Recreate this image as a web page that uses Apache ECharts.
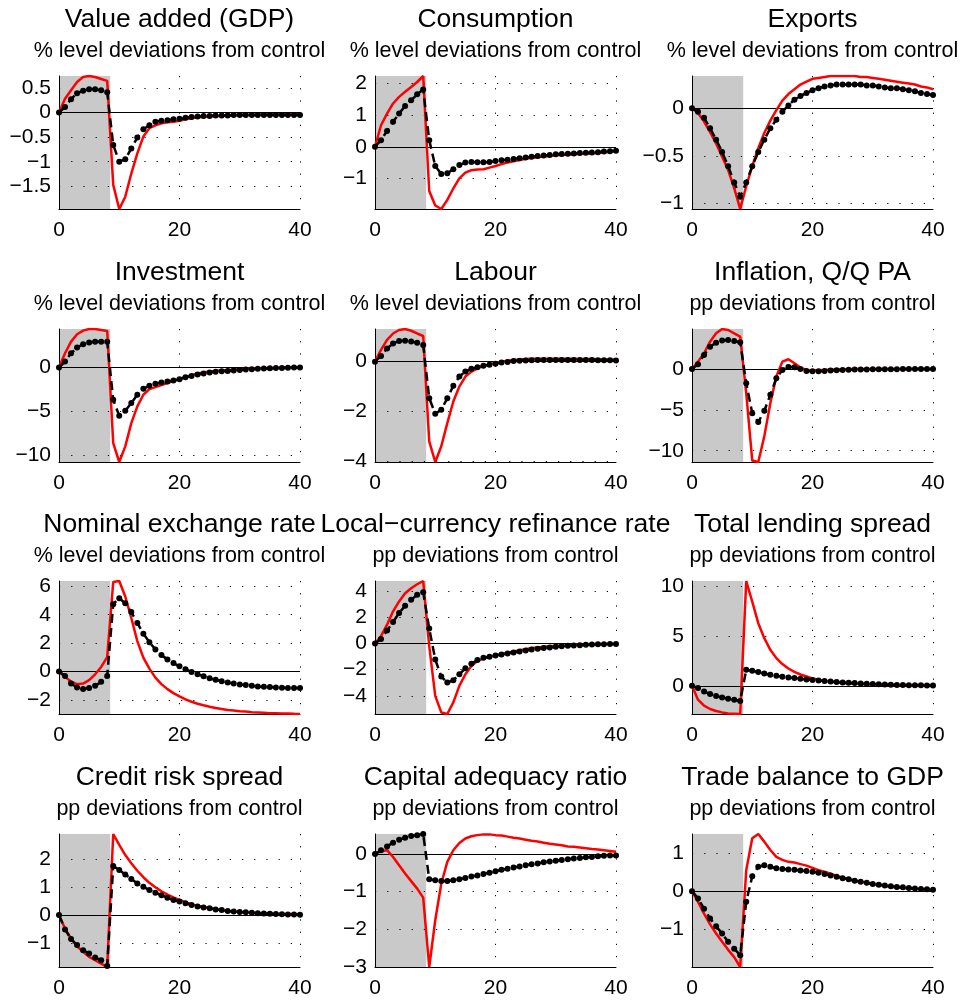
<!DOCTYPE html>
<html>
<head>
<meta charset="utf-8">
<script src="https://cdn.jsdelivr.net/npm/echarts@6/dist/echarts.min.js"></script>
<style>
  html, body { margin: 0; padding: 0; background: #fff; }
  #chart { width: 962px; height: 1001px; }
</style>
</head>
<body>
<div id="chart"></div>
<script>
// Quarters after the shock
const quarters = Array.from({ length: 41 }, (_, i) => i);

const panelTitles = [
  'Value added (GDP)', 'Consumption', 'Exports',
  'Investment', 'Labour', 'Inflation, Q/Q PA',
  'Nominal exchange rate', 'Local\u2212currency refinance rate', 'Total lending spread',
  'Credit risk spread', 'Capital adequacy ratio', 'Trade balance to GDP'
];
const panelUnits = [
  '% level deviations from control', '% level deviations from control', '% level deviations from control',
  '% level deviations from control', '% level deviations from control', 'pp deviations from control',
  '% level deviations from control', 'pp deviations from control', 'pp deviations from control',
  'pp deviations from control', 'pp deviations from control', 'pp deviations from control'
];
// Spacing of the labelled y ticks in each panel
const yTickSteps = [0.5, 1, 0.5, 5, 2, 5, 2, 2, 5, 1, 1, 1];
const xTickStep = 20;
// End of the shaded period (quarters)
const shadeEnd = 8.5;

// Red solid line / black dotted line, quarters 0..40
const gdpRed = [0, 0.28, 0.45, 0.62, 0.72, 0.74, 0.72, 0.68, 0.64, -1.47, -1.96, -1.71, -1.24, -0.83, -0.49, -0.32, -0.26, -0.22, -0.2, -0.19, -0.17, -0.14, -0.12, -0.1, -0.09, -0.08, -0.07, -0.07, -0.06, -0.06, -0.05, -0.05, -0.05, -0.05, -0.04, -0.04, -0.04, -0.04, -0.04, -0.04, -0.04];
const gdpBlack = [0, 0.11, 0.27, 0.39, 0.44, 0.47, 0.47, 0.45, 0.41, -0.66, -1.0, -0.95, -0.73, -0.51, -0.34, -0.26, -0.19, -0.17, -0.16, -0.14, -0.13, -0.11, -0.09, -0.08, -0.07, -0.07, -0.06, -0.06, -0.06, -0.05, -0.05, -0.05, -0.05, -0.05, -0.05, -0.05, -0.05, -0.05, -0.05, -0.05, -0.05];

const consRed = [0, 0.68, 1.05, 1.37, 1.58, 1.74, 1.89, 2.05, 2.24, -1.4, -1.86, -1.97, -1.68, -1.32, -1.0, -0.82, -0.74, -0.72, -0.71, -0.66, -0.61, -0.55, -0.5, -0.46, -0.42, -0.38, -0.35, -0.33, -0.31, -0.29, -0.27, -0.26, -0.25, -0.24, -0.23, -0.22, -0.21, -0.2, -0.18, -0.16, -0.14];
const consBlack = [0, 0.21, 0.5, 0.79, 1.05, 1.29, 1.47, 1.66, 1.81, 0.21, -0.61, -0.86, -0.84, -0.71, -0.58, -0.5, -0.48, -0.49, -0.49, -0.48, -0.45, -0.43, -0.41, -0.39, -0.36, -0.34, -0.32, -0.29, -0.28, -0.26, -0.24, -0.23, -0.22, -0.21, -0.2, -0.19, -0.18, -0.17, -0.15, -0.14, -0.13];

const expRed = [0, -0.05, -0.14, -0.25, -0.37, -0.51, -0.65, -0.84, -1.06, -0.82, -0.61, -0.42, -0.26, -0.13, -0.02, 0.08, 0.15, 0.2, 0.25, 0.28, 0.31, 0.32, 0.33, 0.34, 0.34, 0.34, 0.34, 0.34, 0.33, 0.33, 0.32, 0.31, 0.3, 0.29, 0.28, 0.27, 0.26, 0.25, 0.23, 0.22, 0.2];
const expBlack = [0, -0.035, -0.1, -0.21, -0.33, -0.46, -0.61, -0.78, -0.93, -0.78, -0.61, -0.46, -0.33, -0.21, -0.12, -0.035, 0.03, 0.09, 0.13, 0.16, 0.19, 0.21, 0.23, 0.24, 0.25, 0.25, 0.25, 0.25, 0.25, 0.24, 0.24, 0.23, 0.22, 0.21, 0.21, 0.2, 0.19, 0.18, 0.16, 0.15, 0.14];

const invRed = [0, 1.63, 2.95, 3.79, 4.2, 4.39, 4.39, 4.28, 4.17, -8.6, -10.76, -8.98, -6.33, -4.43, -3.1, -2.46, -2.23, -2.0, -1.78, -1.55, -1.29, -1.06, -0.87, -0.68, -0.57, -0.45, -0.38, -0.3, -0.27, -0.23, -0.19, -0.15, -0.11, -0.09, -0.08, -0.06, -0.04, -0.03, 0, 0, 0];
const invBlack = [0, 0.68, 1.63, 2.27, 2.65, 2.84, 2.95, 2.95, 2.95, -3.67, -5.49, -4.92, -4.05, -3.1, -2.42, -2.08, -1.86, -1.7, -1.59, -1.48, -1.33, -1.1, -0.95, -0.8, -0.68, -0.57, -0.49, -0.42, -0.38, -0.34, -0.27, -0.23, -0.19, -0.15, -0.11, -0.08, -0.06, -0.04, -0.02, 0, 0];

const labRed = [0, 0.47, 0.87, 1.13, 1.27, 1.31, 1.24, 1.13, 1.03, -3.2, -4.03, -3.4, -2.47, -1.6, -1.0, -0.6, -0.4, -0.27, -0.17, -0.11, -0.04, 0, 0.04, 0.07, 0.09, 0.11, 0.12, 0.12, 0.12, 0.12, 0.12, 0.12, 0.12, 0.12, 0.11, 0.11, 0.11, 0.1, 0.09, 0.09, 0.08];
const labBlack = [0, 0.23, 0.53, 0.73, 0.83, 0.84, 0.81, 0.76, 0.67, -1.47, -2.09, -1.93, -1.47, -0.97, -0.6, -0.4, -0.29, -0.23, -0.17, -0.13, -0.09, -0.04, -0.01, 0.03, 0.04, 0.05, 0.06, 0.07, 0.07, 0.07, 0.07, 0.07, 0.07, 0.07, 0.07, 0.07, 0.07, 0.06, 0.06, 0.06, 0.05];

const inflRed = [0, 0.89, 1.91, 3.33, 4.35, 4.88, 4.76, 4.35, 3.94, -2.97, -11.2, -11.38, -8.25, -4.19, -0.93, 0.89, 1.18, 0.69, 0.16, -0.12, -0.16, -0.16, -0.12, -0.08, -0.06, -0.04, -0.03, -0.02, -0.02, -0.01, -0.01, 0, 0, 0, 0, 0, 0, 0, 0, 0, 0];
const inflBlack = [0, 0.57, 1.71, 2.72, 3.21, 3.46, 3.54, 3.41, 3.25, -1.75, -5.41, -6.5, -5.12, -3.17, -1.14, -0.12, 0.24, 0.2, 0, -0.24, -0.28, -0.28, -0.24, -0.2, -0.16, -0.12, -0.1, -0.08, -0.07, -0.06, -0.05, -0.04, -0.04, -0.03, -0.03, -0.02, -0.02, -0.02, -0.01, -0.01, -0.01];

const fxRed = [0, -0.37, -0.7, -0.88, -0.84, -0.6, -0.19, 0.33, 1.02, 6.3, 6.37, 5.28, 3.77, 2.14, 0.98, 0.21, -0.42, -0.88, -1.23, -1.51, -1.74, -1.95, -2.12, -2.26, -2.37, -2.47, -2.56, -2.63, -2.7, -2.74, -2.79, -2.81, -2.86, -2.88, -2.9, -2.93, -2.93, -2.95, -2.95, -2.97, -2.98];
const fxBlack = [0, -0.3, -0.84, -1.12, -1.23, -1.16, -1.0, -0.72, -0.3, 4.74, 5.16, 4.81, 4.19, 3.42, 2.67, 2.07, 1.56, 1.16, 0.86, 0.6, 0.37, 0.16, -0.02, -0.19, -0.33, -0.47, -0.58, -0.67, -0.77, -0.84, -0.91, -0.95, -1.0, -1.05, -1.07, -1.09, -1.12, -1.14, -1.16, -1.16, -1.16];

const rateRed = [0, 0.56, 1.44, 2.46, 3.22, 3.85, 4.23, 4.53, 4.78, -0.2, -4.0, -5.27, -5.39, -4.5, -3.24, -2.35, -1.72, -1.34, -1.14, -1.01, -0.91, -0.81, -0.71, -0.61, -0.51, -0.43, -0.35, -0.3, -0.25, -0.2, -0.18, -0.15, -0.13, -0.1, -0.08, -0.06, -0.05, -0.04, -0.03, -0.03, -0.03];
const rateBlack = [0, 0.35, 0.99, 1.65, 2.33, 2.89, 3.34, 3.72, 3.92, 1.14, -1.22, -2.53, -2.99, -2.81, -2.35, -1.9, -1.54, -1.27, -1.09, -1.01, -0.91, -0.84, -0.76, -0.68, -0.61, -0.53, -0.46, -0.41, -0.35, -0.3, -0.25, -0.2, -0.18, -0.15, -0.13, -0.1, -0.08, -0.06, -0.05, -0.04, -0.03];

const lendRed = [0, -1.4, -2.0, -2.33, -2.53, -2.67, -2.77, -2.8, -2.83, 10.5, 8.43, 6.27, 4.77, 3.6, 2.77, 2.17, 1.73, 1.4, 1.13, 0.93, 0.73, 0.6, 0.5, 0.4, 0.33, 0.27, 0.23, 0.2, 0.17, 0.13, 0.12, 0.1, 0.08, 0.08, 0.07, 0.05, 0.03, 0.03, 0.03, 0.02, 0.02];
const lendBlack = [0, -0.23, -0.57, -0.83, -1.03, -1.17, -1.3, -1.4, -1.53, 1.6, 1.5, 1.37, 1.23, 1.1, 1.0, 0.9, 0.83, 0.77, 0.7, 0.63, 0.57, 0.53, 0.47, 0.43, 0.37, 0.33, 0.3, 0.27, 0.23, 0.2, 0.17, 0.15, 0.13, 0.1, 0.08, 0.07, 0.05, 0.05, 0.04, 0.03, 0.03];

const creditRed = [0, -0.48, -0.83, -1.11, -1.31, -1.49, -1.61, -1.73, -1.85, 2.89, 2.5, 2.14, 1.85, 1.58, 1.35, 1.15, 0.99, 0.85, 0.73, 0.63, 0.54, 0.46, 0.39, 0.33, 0.29, 0.25, 0.21, 0.18, 0.15, 0.13, 0.11, 0.1, 0.08, 0.07, 0.06, 0.05, 0.05, 0.04, 0.04, 0.03, 0.02];
const creditBlack = [0, -0.51, -0.85, -1.07, -1.25, -1.37, -1.51, -1.61, -1.81, 1.75, 1.61, 1.45, 1.29, 1.13, 1.01, 0.89, 0.8, 0.71, 0.62, 0.54, 0.48, 0.42, 0.36, 0.31, 0.27, 0.24, 0.2, 0.18, 0.15, 0.13, 0.11, 0.1, 0.08, 0.07, 0.06, 0.05, 0.04, 0.03, 0.02, 0.02, 0.01];

const carRed = [0, 0.07, 0.1, -0.08, -0.3, -0.52, -0.72, -0.92, -1.16, -3.0, -1.76, -0.79, -0.21, 0.1, 0.29, 0.41, 0.47, 0.5, 0.52, 0.52, 0.5, 0.49, 0.46, 0.43, 0.41, 0.38, 0.35, 0.33, 0.3, 0.27, 0.25, 0.23, 0.2, 0.19, 0.17, 0.15, 0.13, 0.12, 0.1, 0.08, 0.06];
const carBlack = [0, 0.1, 0.2, 0.3, 0.38, 0.43, 0.48, 0.5, 0.53, -0.67, -0.7, -0.72, -0.72, -0.7, -0.67, -0.64, -0.6, -0.57, -0.53, -0.5, -0.46, -0.42, -0.39, -0.36, -0.33, -0.3, -0.27, -0.25, -0.22, -0.2, -0.18, -0.16, -0.14, -0.12, -0.11, -0.09, -0.08, -0.06, -0.05, -0.04, -0.04];

const tradeRed = [0, -0.28, -0.59, -0.87, -1.11, -1.33, -1.54, -1.73, -1.99, 0.55, 1.39, 1.5, 1.3, 1.08, 0.9, 0.82, 0.77, 0.75, 0.71, 0.67, 0.61, 0.55, 0.51, 0.46, 0.4, 0.36, 0.32, 0.28, 0.25, 0.21, 0.18, 0.16, 0.14, 0.11, 0.1, 0.08, 0.07, 0.06, 0.05, 0.04, 0.04];
const tradeBlack = [0, -0.19, -0.46, -0.72, -0.92, -1.11, -1.33, -1.51, -1.68, -0.28, 0.39, 0.64, 0.68, 0.64, 0.6, 0.58, 0.57, 0.56, 0.54, 0.53, 0.51, 0.48, 0.45, 0.41, 0.38, 0.34, 0.31, 0.27, 0.25, 0.22, 0.19, 0.17, 0.15, 0.13, 0.11, 0.1, 0.08, 0.07, 0.06, 0.05, 0.04];

const redSeries = [gdpRed, consRed, expRed, invRed, labRed, inflRed, fxRed, rateRed, lendRed, creditRed, carRed, tradeRed];
const blackSeries = [gdpBlack, consBlack, expBlack, invBlack, labBlack, inflBlack, fxBlack, rateBlack, lendBlack, creditBlack, carBlack, tradeBlack];

// ---- layout ----
const colLeft = [59, 375, 692];
const rowTop = [76, 329, 581, 834];
const plotW = 241;
const plotH = 133;
const FONT = '"Liberation Sans", Arial, Helvetica, sans-serif';

function tickFormatter(step) {
  return function (v) {
    const k = v / step;
    if (Math.abs(k - Math.round(k)) > 1e-6) return '';
    let s = String(parseFloat((Math.round(k) * step).toFixed(3)));
    if (s === '-0') s = '0';
    return s.replace('-', '\u2212');
  };
}

const dotted = { color: '#000', width: 1, type: [1.2, 11] };

const grids = [], xAxes = [], yAxes = [], series = [], graphics = [];

panelTitles.forEach((title, i) => {
  const col = i % 3, row = Math.floor(i / 3);
  const left = colLeft[col], top = rowTop[row];
  const cx = left + plotW / 2;

  graphics.push({
    type: 'text', x: cx, y: top - 56, silent: true,
    style: { text: title, fontSize: 26.5, fontFamily: FONT, fill: '#000', textAlign: 'center', textVerticalAlign: 'middle' }
  });
  graphics.push({
    type: 'text', x: cx, y: top - 25, silent: true,
    style: { text: panelUnits[i], fontSize: 21.5, fontFamily: FONT, fill: '#000', textAlign: 'center', textVerticalAlign: 'middle' }
  });

  grids.push({ left: left, top: top, width: plotW, height: plotH, containLabel: false, outerBoundsMode: 'none' });

  xAxes.push({
    type: 'value', gridIndex: i, min: 0, max: 40, interval: xTickStep, z: 1.5,
    axisLine: { show: true, onZero: false, lineStyle: { color: '#000', width: 1 } },
    axisTick: { show: false },
    axisLabel: { color: '#000', fontSize: 21, fontFamily: FONT, margin: 11, formatter: tickFormatter(xTickStep) },
    splitLine: { show: true, showMinLine: false, showMaxLine: true, lineStyle: dotted }
  });

  yAxes.push({
    type: 'value', gridIndex: i, min: 'dataMin', max: 'dataMax', scale: true, z: 1.5,
    minInterval: yTickSteps[i], maxInterval: yTickSteps[i],
    axisLine: { show: true, onZero: false, lineStyle: { color: '#000', width: 1 } },
    axisTick: { show: false },
    axisLabel: { color: '#000', fontSize: 21, fontFamily: FONT, margin: 8, formatter: tickFormatter(yTickSteps[i]) },
    splitLine: { show: true, showMinLine: false, showMaxLine: false, lineStyle: dotted }
  });

  series.push({
    type: 'line', xAxisIndex: i, yAxisIndex: i, z: 3,
    data: quarters.map((q, k) => [q, redSeries[i][k]]),
    showSymbol: false, symbol: 'none',
    lineStyle: { color: '#ff0000', width: 2.5 },
    itemStyle: { color: '#ff0000' },
    silent: true,
    markArea: {
      silent: true, z: 1,
      itemStyle: { color: '#c9c9c9' },
      data: [[{ xAxis: 0 }, { xAxis: shadeEnd }]]
    },
    markLine: {
      silent: true, z: 2, symbol: ['none', 'none'],
      label: { show: false },
      lineStyle: { color: '#000', width: 1, type: 'solid' },
      data: [{ yAxis: 0 }]
    }
  });

  series.push({
    type: 'line', xAxisIndex: i, yAxisIndex: i, z: 4,
    data: quarters.map((q, k) => [q, blackSeries[i][k]]),
    symbol: 'circle', symbolSize: 6, showAllSymbol: true,
    lineStyle: { color: '#000', width: 2.5, type: [9, 5] },
    itemStyle: { color: '#000' },
    silent: true
  });
});

const chart = echarts.init(document.getElementById('chart'), null, { renderer: 'canvas' });
chart.setOption({
  animation: false,
  backgroundColor: '#ffffff',
  grid: grids,
  xAxis: xAxes,
  yAxis: yAxes,
  series: series,
  graphic: graphics
});
</script>
</body>
</html>
